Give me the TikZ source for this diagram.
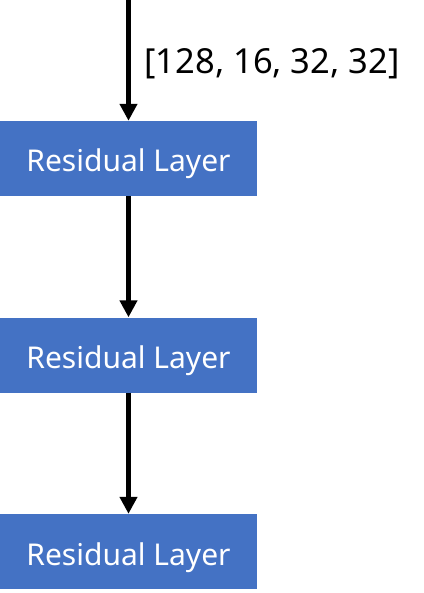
\documentclass[tikz,border=0pt]{standalone}
\usepackage{fontspec}
\setmainfont{Noto Sans}
\usepackage{tikz}
\usetikzlibrary{arrows.meta,positioning}
\usepackage{xcolor}
\definecolor{resblue}{RGB}{68,114,196}
\tikzstyle{layer} = [rectangle, minimum width=257pt, minimum height=75pt, inner sep=0pt, text height=27pt, text depth=0pt, text centered, fill=resblue, text=white, font=\fontsize{30}{33}\selectfont]
\tikzstyle{arrow} = [line width=5.5pt, -{Triangle[length=17pt, width=17pt]}, color=black]

\begin{document}
\begin{tikzpicture}[x=1pt, y=-1pt]
\useasboundingbox (0,0) rectangle (423,593);
% Layers
\node[layer] (res1) at (128.5,158.5) {Residual\ Layer};
\node[layer] (res2) at (128.5,355) {Residual\ Layer};
\node[layer] (res3) at (128.5,551.5) {Residual\ Layer};

% Input
\coordinate (input) at (128.5,0);
\node[anchor=west, font=\fontsize{34.5}{38}\selectfont] (shape) at (141,64) {[128, 16, 32, 32]};

% Connections
\draw[arrow] (input) -- (res1);
\draw[arrow] (res1) -- (res2);
\draw[arrow] (res2) -- (res3);
\end{tikzpicture}
\end{document}
